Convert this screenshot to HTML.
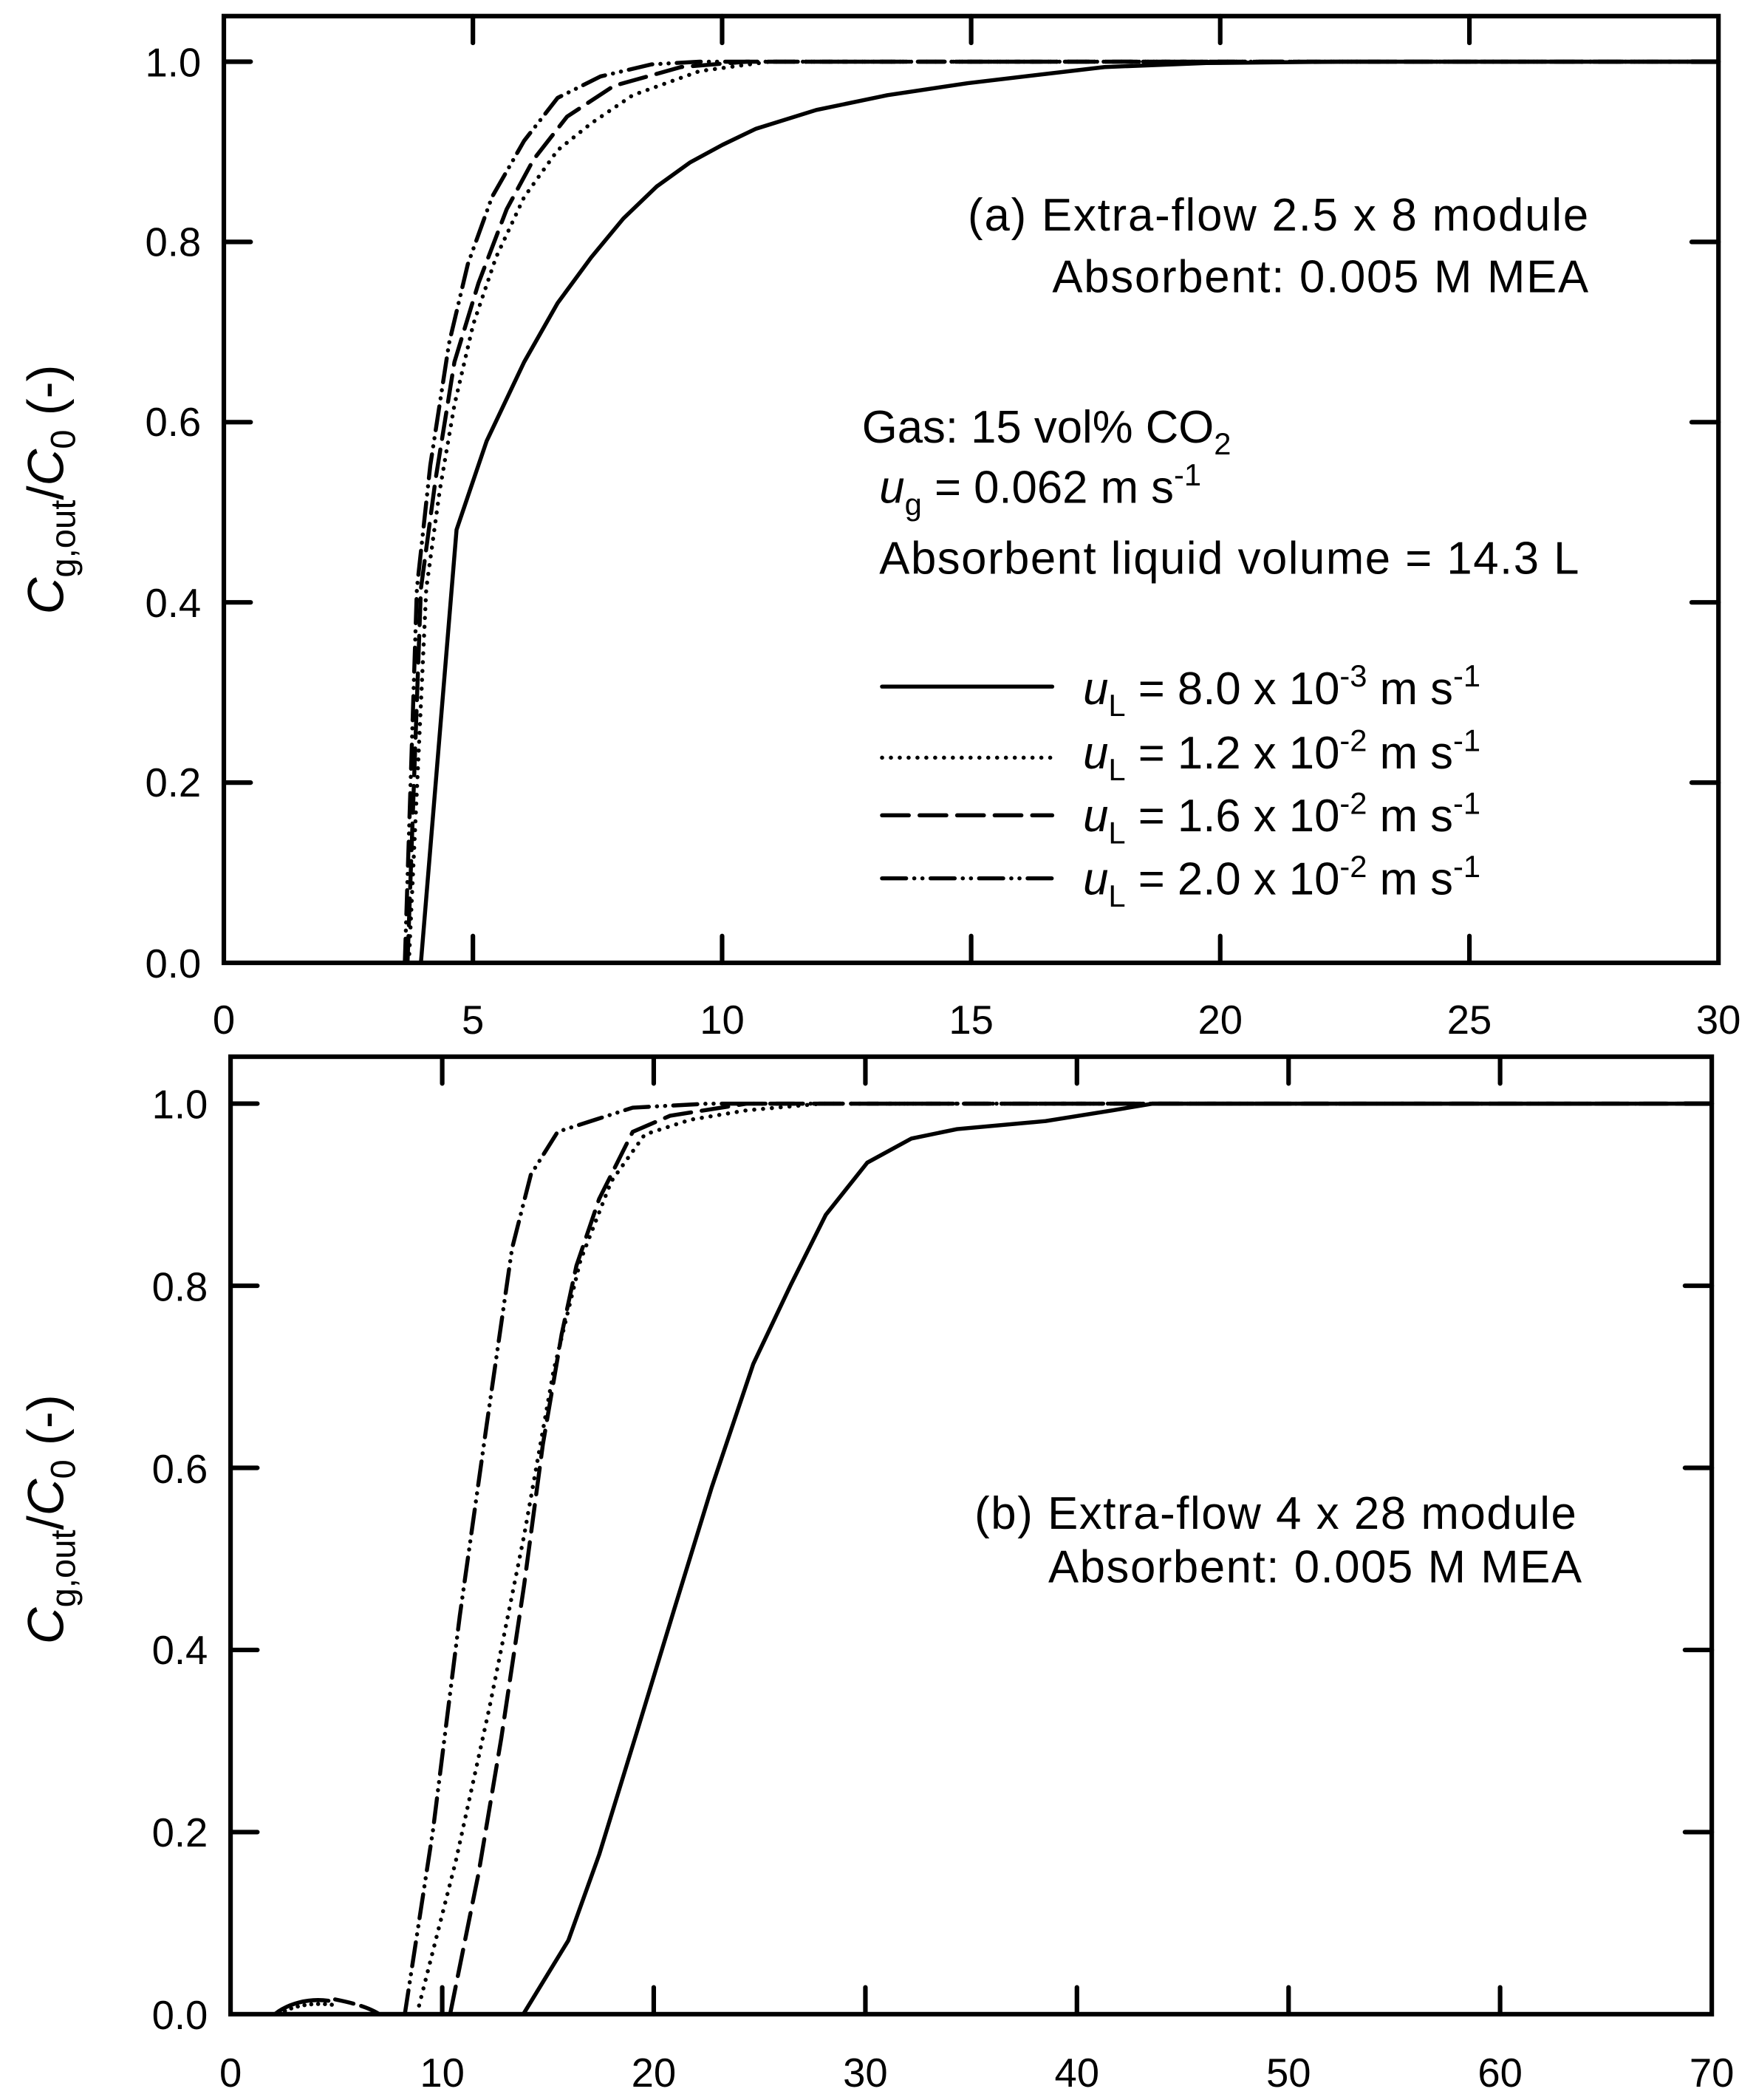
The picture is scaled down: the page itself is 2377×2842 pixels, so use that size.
<!DOCTYPE html>
<html><head><style>html,body{margin:0;padding:0;background:#fff}svg{display:block}</style></head><body>
<svg width="2377" height="2842" viewBox="0 0 1310 1566" preserveAspectRatio="none" xmlns="http://www.w3.org/2000/svg" font-family="Liberation Sans, Arial, sans-serif">
<g fill="none" stroke="#000" stroke-width="3.4" stroke-linecap="round">
<rect x="167" y="12" width="1115" height="706"/>
<path d="M167,46h20M167,180.4h20M167,314.8h20M167,449.2h20M167,583.6h20M1282,46h-20M1282,180.4h-20M1282,314.8h-20M1282,449.2h-20M1282,583.6h-20"/>
<path d="M352.8,718v-20M538.7,718v-20M724.5,718v-20M910.3,718v-20M1096.2,718v-20M352.8,12v20M538.7,12v20M724.5,12v20M910.3,12v20M1096.2,12v20"/>
<rect x="172" y="788" width="1105" height="714"/>
<path d="M172,823h20M172,958.8h20M172,1094.6h20M172,1230.4h20M172,1366.2h20M1277,823h-20M1277,958.8h-20M1277,1094.6h-20M1277,1230.4h-20M1277,1366.2h-20"/>
<path d="M329.9,1502v-20M487.7,1502v-20M645.6,1502v-20M803.4,1502v-20M961.3,1502v-20M1119.1,1502v-20M329.9,788v20M487.7,788v20M645.6,788v20M803.4,788v20M961.3,788v20M1119.1,788v20"/>
</g>
<g fill="none" stroke="#000" stroke-width="3" stroke-linecap="round" stroke-linejoin="round">
<!-- top curves -->
<path d="M314,718 L340.6,395 L363,329 L391,270 L416,226 L441,192 L465,163 L490,139 L515,121 L539,108 L564,96 L609,82 L662,71 L722,62 L824,50 L900,47 L1000,46 L1282,46"/>
<path d="M305,718 L318,439 L328,366 L339,302 L353,242 L370,192 L391,147 L416,112 L441,92 L472,71 L522,53 L574,46 L1282,46" stroke-dasharray="0.1 6.5"/>
<path d="M304,718 L314,439 L325,357 L339,270 L357,211 L378,156 L398,119 L423,87 L458,64 L508,50 L557,46 L1282,46" stroke-dasharray="20 8"/>
<path d="M302,718 L311,439 L321,347 L335,256 L349,197 L367,147 L391,105 L416,73 L448,57 L486,48 L522,46 L1282,46" stroke-dasharray="18 6 0.1 6 0.1 6"/>
<!-- bottom curves -->
<path d="M391,1501 L424,1447 L447,1383 L475,1292 L503,1200 L531,1109 L562,1017 L590,958 L616,906 L647,867 L680,849 L714,842 L780,836 L830,828 L860,823 L1277,823"/>
<path d="M311,1502 L340,1388 L365,1274 L391,1145 L413,1022 L433,940 L456,881 L481,846 L515,835 L557,828 L613,823 L930,823" stroke-dasharray="0.1 6.5"/>
<path d="M336,1501 L357,1397 L374,1296 L391,1182 L405,1077 L419,995 L430,944 L447,894 L472,844 L500,832 L557,823 L1277,823" stroke-dasharray="20 8"/>
<path d="M302,1502 L323,1365 L343,1205 L363,1063 L382,931 L396,876 L416,844 L444,835 L472,826 L528,823 L1277,823" stroke-dasharray="18 6 0.1 6 0.1 6"/>
<path d="M205,1502 C215,1494 230,1490 245,1492" />
<path d="M208,1502 C218,1496 232,1493 248,1495" stroke-dasharray="0.1 5"/>
<path d="M250,1491 C265,1494 275,1497 283,1502" stroke-dasharray="14 6"/>
<!-- legend -->
<path d="M658,512H785"/>
<path d="M658,565H785" stroke-dasharray="0.1 6.5"/>
<path d="M658,608H785" stroke-dasharray="20 8"/>
<path d="M658,655H785" stroke-dasharray="18 6 0.1 6 0.1 6"/>
</g>
<g font-size="30" fill="#000">
<g text-anchor="end">
<text x="150" y="57">1.0</text><text x="150" y="191">0.8</text><text x="150" y="325">0.6</text><text x="150" y="460">0.4</text><text x="150" y="594">0.2</text><text x="150" y="729">0.0</text>
<text x="155" y="834">1.0</text><text x="155" y="970">0.8</text><text x="155" y="1106">0.6</text><text x="155" y="1241">0.4</text><text x="155" y="1377">0.2</text><text x="155" y="1513">0.0</text>
</g>
<g text-anchor="middle">
<text x="167" y="771">0</text><text x="352.8" y="771">5</text><text x="538.7" y="771">10</text><text x="724.5" y="771">15</text><text x="910.3" y="771">20</text><text x="1096.2" y="771">25</text><text x="1282" y="771">30</text>
<text x="172" y="1556">0</text><text x="329.9" y="1556">10</text><text x="487.7" y="1556">20</text><text x="645.6" y="1556">30</text><text x="803.4" y="1556">40</text><text x="961.3" y="1556">50</text><text x="1119.1" y="1556">60</text><text x="1277" y="1556">70</text>
</g>
<g font-size="34">
<text x="722" y="172" textLength="463">(a) Extra-flow 2.5 x 8 module</text>
<text x="785" y="218" textLength="400">Absorbent: 0.005 M MEA</text>
<text x="727" y="1140" textLength="449">(b) Extra-flow 4 x 28 module</text>
<text x="782" y="1180" textLength="398">Absorbent: 0.005 M MEA</text>
<text x="643" y="330">Gas: 15 vol% CO<tspan font-size="23" dy="9">2</tspan></text>
<text x="656" y="375"><tspan font-style="italic">u</tspan><tspan font-size="23" dy="9">g</tspan><tspan dy="-9"> = 0.062 m s</tspan><tspan font-size="23" dy="-13">-1</tspan></text>
<text x="656" y="428" textLength="522">Absorbent liquid volume = 14.3 L</text>
<text x="808" y="525"><tspan font-style="italic">u</tspan><tspan font-size="23" dy="9">L</tspan><tspan dy="-9"> = 8.0 x 10</tspan><tspan font-size="23" dy="-13">-3</tspan><tspan dy="13"> m s</tspan><tspan font-size="23" dy="-13">-1</tspan></text>
<text x="808" y="573"><tspan font-style="italic">u</tspan><tspan font-size="23" dy="9">L</tspan><tspan dy="-9"> = 1.2 x 10</tspan><tspan font-size="23" dy="-13">-2</tspan><tspan dy="13"> m s</tspan><tspan font-size="23" dy="-13">-1</tspan></text>
<text x="808" y="620"><tspan font-style="italic">u</tspan><tspan font-size="23" dy="9">L</tspan><tspan dy="-9"> = 1.6 x 10</tspan><tspan font-size="23" dy="-13">-2</tspan><tspan dy="13"> m s</tspan><tspan font-size="23" dy="-13">-1</tspan></text>
<text x="808" y="667"><tspan font-style="italic">u</tspan><tspan font-size="23" dy="9">L</tspan><tspan dy="-9"> = 2.0 x 10</tspan><tspan font-size="23" dy="-13">-2</tspan><tspan dy="13"> m s</tspan><tspan font-size="23" dy="-13">-1</tspan></text>
</g>
<text transform="translate(47,365) rotate(-90)" text-anchor="middle" font-size="38"><tspan font-style="italic">C</tspan><tspan font-size="26" dy="9">g,out</tspan><tspan dy="-9">/</tspan><tspan font-style="italic">C</tspan><tspan font-size="26" dy="9">0</tspan><tspan dy="-9"> (-)</tspan></text>
<text transform="translate(47,1133) rotate(-90)" text-anchor="middle" font-size="38"><tspan font-style="italic">C</tspan><tspan font-size="26" dy="9">g,out</tspan><tspan dy="-9">/</tspan><tspan font-style="italic">C</tspan><tspan font-size="26" dy="9">0</tspan><tspan dy="-9"> (-)</tspan></text>
</g>
</svg>
</body></html>
